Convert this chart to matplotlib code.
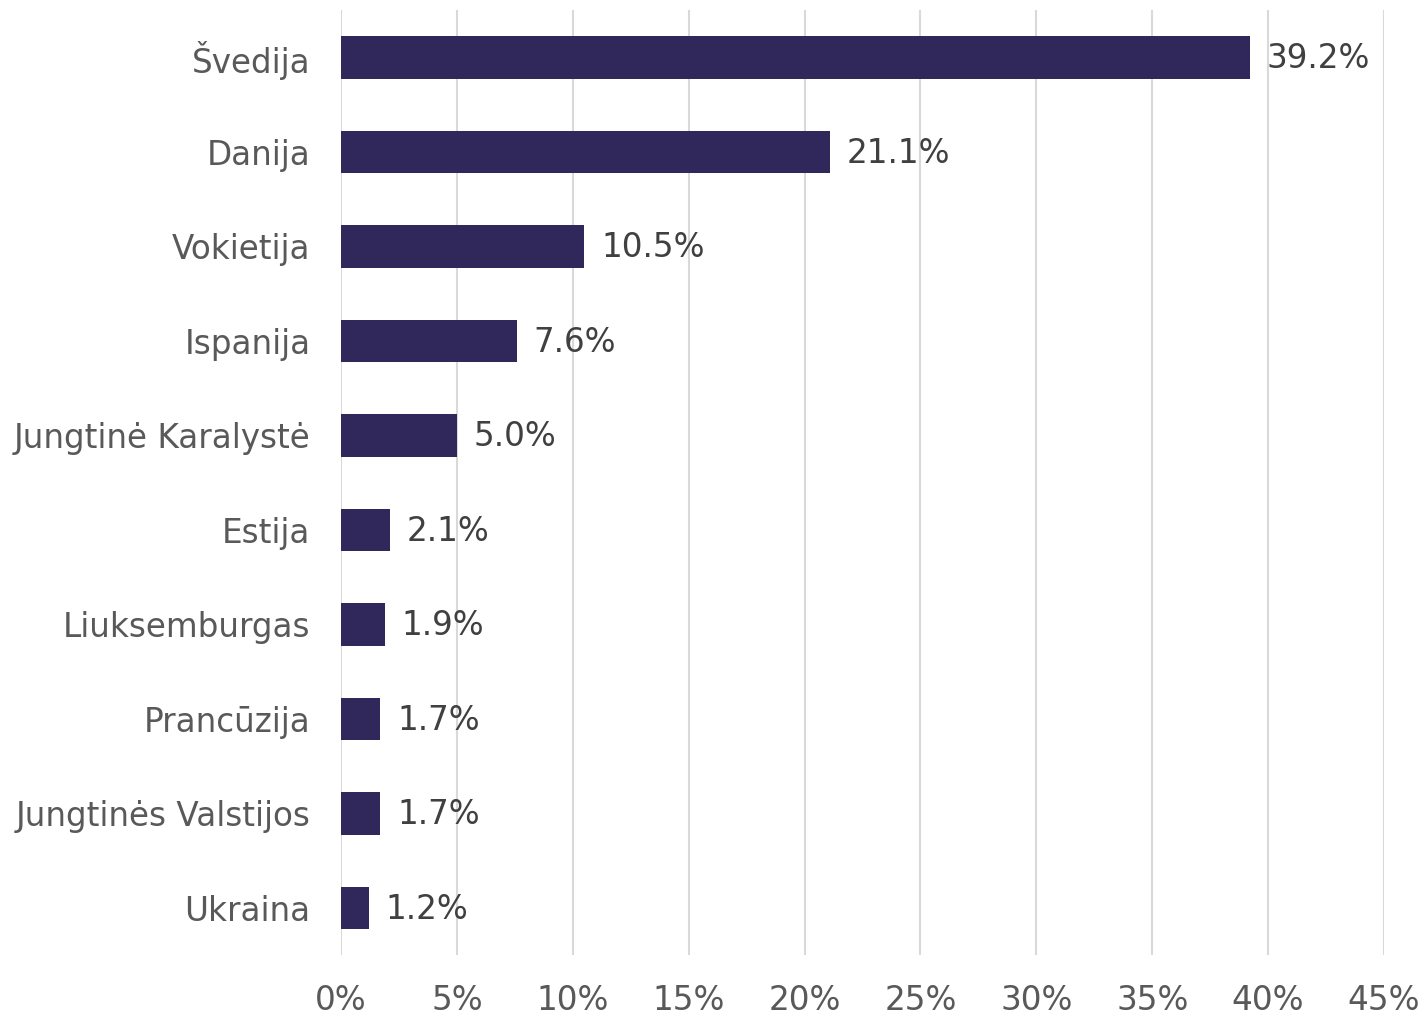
import os
import matplotlib
import matplotlib.pyplot as plt
from matplotlib import font_manager
from matplotlib.ticker import FuncFormatter

dv_path = os.path.join(matplotlib.get_data_path(), "fonts", "ttf", "DejaVuSans.ttf")
font_manager.fontManager.addfont(dv_path)
dv_name = font_manager.FontProperties(fname=dv_path).get_name()
plt.rcParams['font.family'] = 'sans-serif'
plt.rcParams['font.sans-serif'] = [dv_name]

countries = ["Švedija", "Danija", "Vokietija", "Ispanija", "Jungtinė Karalystė",
             "Estija", "Liuksemburgas", "Prancūzija", "Jungtinės Valstijos", "Ukraina"]
shares = [39.2, 21.1, 10.5, 7.6, 5.0, 2.1, 1.9, 1.7, 1.7, 1.2]
xticks = [0, 5, 10, 15, 20, 25, 30, 35, 40, 45]

bar_color = "#30285a"

fig = plt.figure(figsize=(14.25, 10.15), dpi=100)
ax = fig.add_axes([0.2393, 0.0591, 0.7319, 0.9310])

ypos = list(range(len(countries)))
ax.barh(ypos, shares, height=0.45, color=bar_color, zorder=2)

for y, v in zip(ypos, shares):
    ax.annotate(f"{v:.1f}%", (v, y), xytext=(12, -1), textcoords="offset points",
                va="center", ha="left", fontsize=23.5, color="#404040", zorder=3)

ax.set_xlim(0, 45)
ax.set_ylim(len(countries) - 0.5, -0.5)
ax.set_xticks(xticks)
ax.xaxis.set_major_formatter(FuncFormatter(lambda v, p: f"{v:.0f}%"))
ax.set_yticks(ypos)
ax.set_yticklabels(countries)

ax.grid(axis="x", color="#d9d9d9", linewidth=1.5, zorder=0)
ax.set_axisbelow(True)
for s in ax.spines.values():
    s.set_visible(False)
ax.tick_params(axis="both", length=0, labelsize=23.5, labelcolor="#595959")
ax.tick_params(axis="x", pad=21)
ax.tick_params(axis="y", pad=22)

fig.savefig("out.png", dpi=100)
